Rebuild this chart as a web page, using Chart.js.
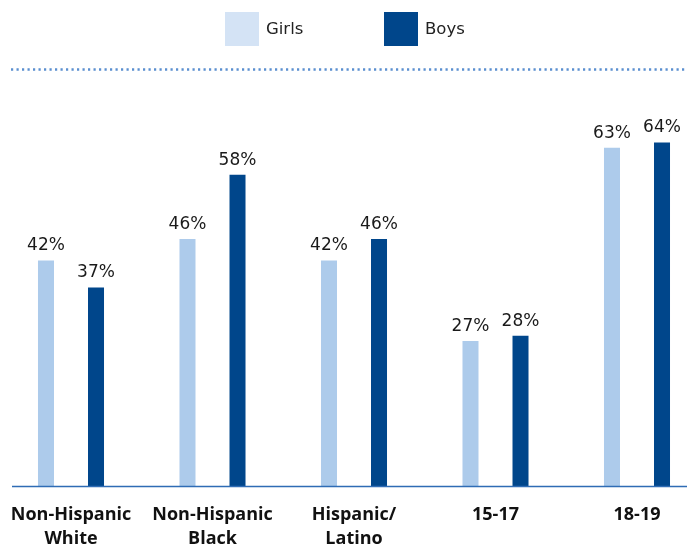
<!DOCTYPE html>
<html>
<head>
<meta charset="utf-8">
<script src="https://cdn.jsdelivr.net/npm/chart.js@4.4.1/dist/chart.umd.min.js"></script>
<style>
  html, body { margin: 0; padding: 0; background: #ffffff; }
  #wrap { position: relative; width: 687px; height: 545px; }
  #chart { position: absolute; left: 0; top: 0; }
  .lg-box { position: absolute; top: 12px; width: 34px; height: 34px; }
  .lg-text { position: absolute; top: 17px; font-family: "DejaVu Sans", sans-serif; font-size: 16.5px; color: #222; line-height: 24px; }
</style>
</head>
<body>
<div id="wrap">
  <canvas id="chart" width="687" height="545"></canvas>
  <div class="lg-box" style="left:225px;background:#d4e3f5;"></div>
  <div class="lg-text" id="lg0" style="left:266px;"></div>
  <div class="lg-box" style="left:384px;background:#00468b;"></div>
  <div class="lg-text" id="lg1" style="left:425px;"></div>
</div>
<script>
// ---- data ----
const categories = [["Non-Hispanic", "White"], ["Non-Hispanic", "Black"], ["Hispanic/", "Latino"], "15-17", "18-19"];
const seriesNames = ["Girls", "Boys"];
const girlsValues = [42, 46, 42, 27, 63];
const boysValues = [37, 58, 46, 28, 64];

// ---- styles ----
const barColors = ["#adcbeb", "#00468b"];

document.getElementById("lg0").textContent = seriesNames[0];
document.getElementById("lg1").textContent = seriesNames[1];

const decorPlugin = {
  id: "decor",
  afterDatasetsDraw(chart) {
    const ctx = chart.ctx;
    const area = chart.chartArea;
    ctx.save();
    // data labels
    ctx.font = "17px 'DejaVu Sans', sans-serif";
    ctx.fillStyle = "#1a1a1a";
    ctx.textAlign = "center";
    ctx.textBaseline = "bottom";
    chart.data.datasets.forEach((ds, di) => {
      const meta = chart.getDatasetMeta(di);
      meta.data.forEach((bar, i) => {
        ctx.fillText(ds.data[i] + "%", bar.x, bar.y - 6);
      });
    });
    // baseline axis line
    ctx.strokeStyle = "#2f6cb5";
    ctx.lineWidth = 1.6;
    ctx.beginPath();
    ctx.moveTo(12, area.bottom + 0.5);
    ctx.lineTo(chart.width, area.bottom + 0.5);
    ctx.stroke();
    // dotted top rule
    ctx.strokeStyle = "#5b8fd0";
    ctx.lineWidth = 2.4;
    ctx.setLineDash([2.2, 3.3]);
    ctx.beginPath();
    ctx.moveTo(11, area.top - 0.5);
    ctx.lineTo(chart.width, area.top - 0.5);
    ctx.stroke();
    ctx.restore();
  }
};

new Chart(document.getElementById("chart"), {
  type: "bar",
  data: {
    labels: categories,
    datasets: [
      { label: seriesNames[0], data: girlsValues, backgroundColor: barColors[0], clip: false },
      { label: seriesNames[1], data: boysValues, backgroundColor: barColors[1], clip: false }
    ]
  },
  options: {
    responsive: false,
    animation: false,
    categoryPercentage: 0.707,
    barPercentage: 0.32,
    layout: { padding: { left: 71, right: 50, top: 70, bottom: 0 } },
    plugins: { legend: { display: false }, tooltip: { enabled: false } },
    scales: {
      x: {
        offset: false,
        grid: { display: false },
        border: { display: false },
        ticks: {
          padding: 8,
          color: "#111",
          maxRotation: 0,
          autoSkip: false,
          font: { family: "'Open Sans', sans-serif", size: 18, weight: "bold", lineHeight: 1.38 }
        },
        afterFit(scale) { scale.height = 59; }
      },
      y: {
        display: false,
        min: 0,
        max: 77.5
      }
    }
  },
  plugins: [decorPlugin]
});
</script>
</body>
</html>
